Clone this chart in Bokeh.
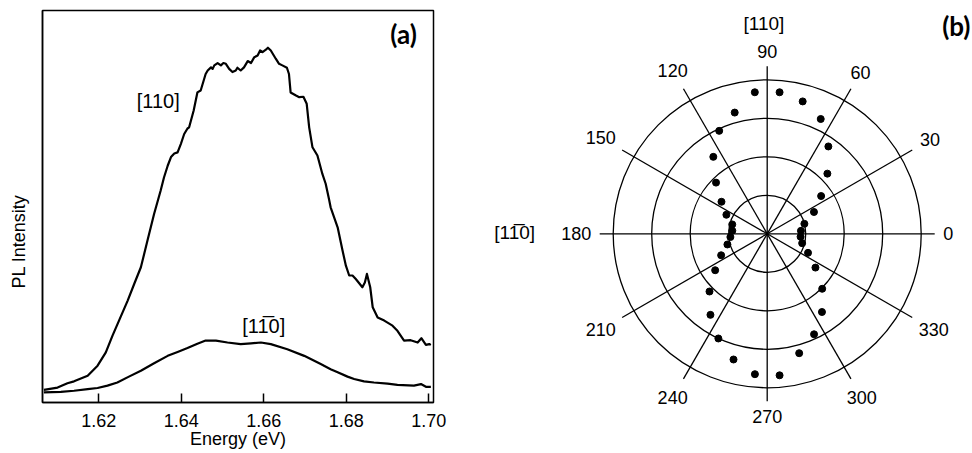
import numpy as np
from bokeh.plotting import figure
from bokeh.layouts import row
from bokeh.models import ColumnDataSource, Label, FixedTicker, Range1d, PrintfTickFormatter
from bokeh.core.properties import value
from bokeh.embed import file_html
from bokeh.resources import INLINE

# ---------------- Panel (a): PL spectra ----------------
energy_110 = [1.6067, 1.6100, 1.6124, 1.6140, 1.6173, 1.6197, 1.6217, 1.6233, 1.6249, 1.6270,
              1.6286, 1.6302, 1.6318, 1.6334, 1.6350, 1.6358, 1.6367, 1.6375, 1.6383, 1.6391,
              1.6399, 1.6407, 1.6415, 1.6419, 1.6430, 1.6439, 1.6447, 1.6459, 1.6464, 1.6472,
              1.6476, 1.6480, 1.6488, 1.6496, 1.6502, 1.6508, 1.6516, 1.6524, 1.6532, 1.6536,
              1.6544, 1.6552, 1.6561, 1.6569, 1.6577, 1.6585, 1.6591, 1.6597, 1.6605, 1.6610,
              1.6617, 1.6629, 1.6637, 1.6645, 1.6656, 1.6661, 1.6665, 1.6678, 1.6686, 1.6696,
              1.6704, 1.6710, 1.6718, 1.6730, 1.6742, 1.6750, 1.6758, 1.6762, 1.6779, 1.6791,
              1.6799, 1.6807, 1.6815, 1.6823, 1.6839, 1.6845, 1.6850, 1.6858, 1.6864, 1.6876,
              1.6892, 1.6912, 1.6924, 1.6940, 1.6956, 1.6973, 1.6982, 1.6993, 1.7001, 1.7005]
intensity_110 = [3.2, 3.8, 4.9, 5.4, 6.8, 9.4, 12.8, 17.0, 20.9, 26.0,
                 30.3, 34.5, 41.3, 48.1, 54.1, 57.4, 60.4, 62.6, 63.5, 63.8,
                 66.0, 68.5, 69.9, 70.2, 74.5, 79.1, 79.6, 83.8, 84.7, 85.5,
                 85.1, 86.0, 86.6, 86.0, 86.6, 86.4, 85.1, 84.3, 84.7, 85.4,
                 84.7, 85.5, 87.1, 86.6, 88.1, 88.5, 89.8, 89.4, 90.0, 90.5,
                 89.8, 87.7, 86.4, 86.0, 85.4, 83.8, 79.1, 78.3, 77.9, 78.0,
                 76.2, 70.2, 65.1, 63.0, 58.3, 55.8, 51.9, 49.8, 44.7, 38.7,
                 34.9, 32.4, 32.4, 31.5, 29.4, 30.6, 32.8, 29.4, 24.3, 21.7,
                 20.9, 19.6, 18.3, 15.8, 15.9, 15.3, 16.4, 14.7, 14.9, 14.7]

energy_1b10 = [1.6067, 1.6108, 1.6140, 1.6173, 1.6197, 1.6221, 1.6245, 1.6273, 1.6302, 1.6334,
               1.6367, 1.6391, 1.6415, 1.6439, 1.6459, 1.6484, 1.6512, 1.6544, 1.6569, 1.6593,
               1.6617, 1.6657, 1.6698, 1.6738, 1.6762, 1.6779, 1.6803, 1.6819, 1.6843, 1.6867,
               1.6900, 1.6924, 1.6964, 1.6981, 1.6993, 1.7005]
intensity_1b10 = [2.6, 2.7, 3.0, 3.4, 3.7, 4.3, 5.1, 6.6, 8.1, 10.0,
                  11.9, 12.9, 13.9, 15.0, 15.8, 15.8, 15.3, 14.9, 15.1, 15.3,
                  14.9, 13.6, 11.9, 9.8, 8.5, 7.7, 6.6, 6.0, 5.4, 5.1,
                  4.8, 4.5, 4.3, 4.7, 4.0, 4.0]

energy_ticks = [1.62, 1.64, 1.66, 1.68, 1.70]

# ---------------- Panel (b): polar plot ----------------
pol_angle_deg = [5, 15, 25, 35, 45, 55, 65, 75, 85, 95, 105, 115, 125, 135, 145, 155, 165, 175,
                 185, 195, 205, 215, 225, 235, 245, 255, 265, 275, 285, 295, 305, 315, 325, 335, 345, 355]
pol_intensity = [0.88, 1.00, 1.34, 1.71, 2.21, 2.77, 3.29, 3.56, 3.69, 3.69, 3.26, 2.95, 2.44, 1.88,
                 1.45, 1.17, 0.94, 0.91, 0.96, 1.07, 1.32, 1.65, 2.12, 2.57, 3.00, 3.38, 3.66, 3.69,
                 3.21, 2.88, 2.48, 2.02, 1.53, 1.17, 0.94, 0.87]
ring_levels = [1, 2, 3, 4]
spoke_angles = [0, 30, 60, 90, 120, 150, 180, 210, 240, 270, 300, 330]
spoke_labels = ["0", "30", "60", "90", "120", "150", "180", "210", "240", "270", "300", "330"]

FONT = "Liberation Sans"
BOLD_FONT = "Lato"

FRAME_TOP = 10
FRAME_H = 392

# ---------- left figure ----------
p1 = figure(frame_width=391, frame_height=FRAME_H, output_backend="svg", toolbar_location=None,
            x_range=Range1d(1.60635, 1.70114), y_range=Range1d(0, 100),
            min_border_left=42, min_border_right=47, min_border_top=FRAME_TOP, min_border_bottom=0)
p1.grid.visible = False
p1.outline_line_color = "black"
p1.outline_line_width = 1.5
p1.background_fill_color = "white"
p1.border_fill_color = "white"

p1.line(energy_110, intensity_110, line_color="black", line_width=2.2, line_join="round")
p1.line(energy_1b10, intensity_1b10, line_color="black", line_width=2.2, line_join="round")

xa = p1.xaxis[0]
xa.ticker = FixedTicker(ticks=energy_ticks)
xa.formatter = PrintfTickFormatter(format="%.2f")
xa.major_tick_in = 9
xa.major_tick_out = 0
xa.minor_tick_in = 0
xa.minor_tick_out = 0
xa.major_tick_line_width = 1.5
xa.axis_line_width = 1.5
xa.major_label_standoff = 11
xa.major_label_text_font = FONT
xa.major_label_text_font_size = "18px"
xa.major_label_text_color = "black"
xa.axis_label = "Energy (eV)"
xa.axis_label_text_font = FONT
xa.axis_label_text_font_size = "18px"
xa.axis_label_text_font_style = "normal"
xa.axis_label_text_color = "black"
xa.axis_label_standoff = -1

ya = p1.yaxis[0]
ya.ticker = FixedTicker(ticks=[])
ya.major_tick_in = 0
ya.major_tick_out = 0
ya.minor_tick_in = 0
ya.minor_tick_out = 0
ya.major_label_standoff = 0
ya.axis_line_width = 1.5
# trailing no-break spaces push the visible words lower along the axis, as in the original
ya.axis_label = "PL Intensity" + "\u00a0" * 14
ya.axis_label_text_font = FONT
ya.axis_label_text_font_size = "18px"
ya.axis_label_text_font_style = "normal"
ya.axis_label_text_color = "black"
ya.axis_label_standoff = 14

p1.add_layout(Label(x=1.6344, y=77.0, text="[110]", text_align="center", text_baseline="middle",
                    text_font=FONT, text_font_size="20px", text_color="black"))
p1.add_layout(Label(x=1.6600, y=19.6, text="[11\u03050]", text_align="center", text_baseline="middle",
                    text_font=FONT, text_font_size="20px", text_color="black"))
p1.add_layout(Label(x=1.6939, y=94.0, text="(a)", text_align="center", text_baseline="middle",
                    text_font=BOLD_FONT, text_font_size="26px", text_font_style="bold", text_color="black"))

# ---------- right figure (polar) ----------
S = 38.5            # pixels per unit radius
W2, H2 = 492, 443
cx, cy = 286.7, 223.3   # centre inside the frame (px from frame left / top); frame top aligns at 10px
p2 = figure(frame_width=W2, frame_height=H2, output_backend="svg", toolbar_location=None,
            x_axis_type=None, y_axis_type=None, min_border=0,
            x_range=Range1d(-cx / S, (W2 - cx) / S), y_range=Range1d(-(H2 - cy) / S, cy / S))
p2.grid.visible = False
p2.outline_line_color = None
p2.background_fill_color = "white"
p2.border_fill_color = "white"

# rings
p2.circle(x=[0] * len(ring_levels), y=[0] * len(ring_levels), radius=ring_levels,
          fill_color=None, line_color="black", line_width=1.3)

# spokes
spoke_len = 167.5 / S
sa = np.radians(spoke_angles)
p2.segment(x0=np.zeros(len(sa)), y0=np.zeros(len(sa)), x1=spoke_len * np.cos(sa), y1=spoke_len * np.sin(sa),
           line_color="black", line_width=1.3)

# angle labels (offset so the text box sits just outside the spokes)
r0 = 176 / S
half_digit_w = 5.0 / S
half_h = 6.5 / S
lab_r = [r0 + abs(np.cos(a)) * half_digit_w * len(t) + abs(np.sin(a)) * half_h for a, t in zip(sa, spoke_labels)]
lab_src = ColumnDataSource(dict(x=[r * np.cos(a) for r, a in zip(lab_r, sa)],
                                y=[r * np.sin(a) for r, a in zip(lab_r, sa)],
                                t=spoke_labels))
p2.text(x="x", y="y", text="t", source=lab_src, text_align="center", text_baseline="middle",
        text_font=value(FONT), text_font_size="18px", text_color="black")

# data points
pa = np.radians(pol_angle_deg)
pr = np.array(pol_intensity)
p2.scatter(pr * np.cos(pa), pr * np.sin(pa), marker="circle", size=7, fill_color="black", line_color="black")

# direction labels
p2.add_layout(Label(x=-3.3 / S, y=210 / S, text="[110]", text_align="center", text_baseline="middle",
                    text_font=FONT, text_font_size="19px", text_color="black"))
p2.add_layout(Label(x=-252.5 / S, y=1 / S, text="[11\u03050]", text_align="center", text_baseline="middle",
                    text_font=FONT, text_font_size="19px", text_color="black"))
p2.add_layout(Label(x=175 / S, y=208.3 / S, text="(b)", text_align="left", text_baseline="middle",
                    text_font=BOLD_FONT, text_font_size="26px", text_font_style="bold", text_color="black"))

layout = row(p1, p2)
open("out.html", "w").write(file_html(layout, INLINE))
